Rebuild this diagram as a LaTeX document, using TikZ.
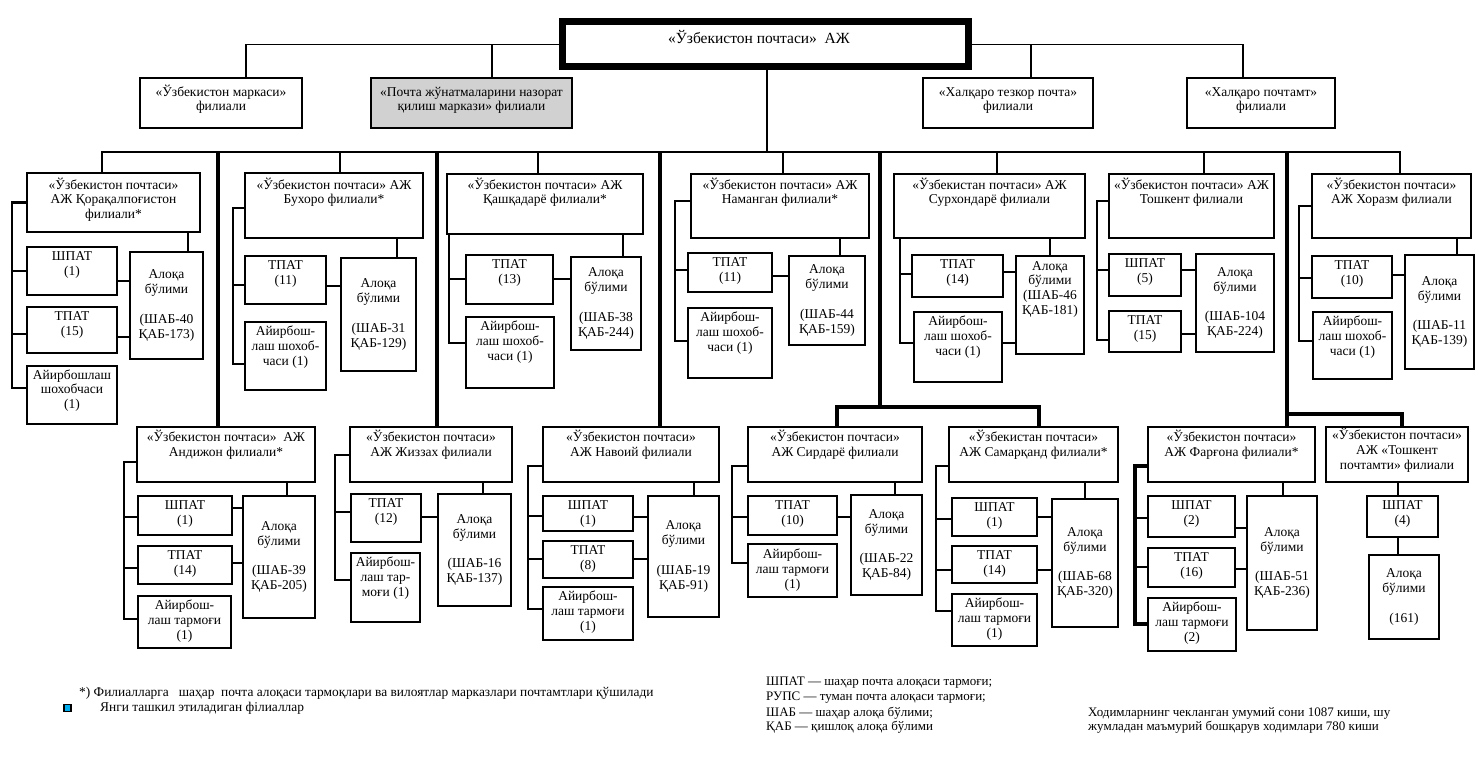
\documentclass[tikz,border=0pt]{standalone}
\usepackage{fontspec}
\setmainfont{Liberation Serif}
\newcommand\fs{\fontsize{13.5}{14.8}\selectfont}
\newcommand\mybt[7][1]{%
  \node[bxs, minimum width={#5-#3}, minimum height={#6-#4}] (#2) at (#3,#4) {};
  \node[txs, anchor=north] (#2x) at ([yshift=-#1pt]#2.north) {\rule{0pt}{12.5pt}#7};}
\newcommand\mybc[6]{%
  \node[bxs, txs, minimum width={#4-#2}, minimum height={#5-#3}] (#1) at (#2,#3) {#6};}
\newcommand\tck[3]{\draw[#3] (#1.west) -- (#1.west -| #2,0);}
\newcommand\tcky[4]{\draw[#4] (#1.west |- 0,#3) -- (#2,#3);}
\newcommand\hc[3]{\draw[ln] (#1.east |- 0,#3) -- (#2.west |- 0,#3);}
\begin{document}
\begin{tikzpicture}[x=1pt,y=-1pt,
  bxs/.style={draw, line width=1.8pt, inner sep=0pt, outer sep=0pt, anchor=north west},
  txs/.style={inner sep=0pt, align=center, font=\fs},
  ln/.style={line width=1.3pt},
  md/.style={line width=2.3pt},
  tk/.style={line width=3.4pt},
  lg/.style={inner sep=0pt, anchor=west, font=\fontsize{13}{15}\selectfont}]
\fill[white] (0,0) rectangle (1483,775);
\useasboundingbox (0,0) rectangle (1483,775);

% ---- top level
\node[draw, line width=7pt, minimum width=406, minimum height=45, anchor=north west, inner sep=0pt] (top) at (558.5,18.5) {};
\node[font=\fontsize{15.5}{17}\selectfont, inner sep=0pt] (topx) at (759,37) {«Ўзбекистон почтаси»\ \ АЖ};
\mybt[5.5]{mk}{140}{78}{302}{128}{«Ўзбекистон маркаси»\\филиали}
\node[bxs, fill=black!18, minimum width=201, minimum height=50] (pn) at (371,78) {};
\node[txs, anchor=north] (pnx) at ([yshift=-5.5pt]pn.north) {\rule{0pt}{12.5pt}«Почта жўнатмаларини назорат\\қилиш маркази» филиали};
\mybt[5.5]{ht}{923}{78}{1093}{128}{«Халқаро тезкор почта»\\филиали}
\mybt[5.5]{hp}{1187}{78}{1335}{128}{«Халқаро почтамт»\\филиали}
\draw[ln] (mk.north -| 246,0) |- (top.west);
\draw[ln] (pn.north -| 492,0) -- (top.west -| 492,0);
\draw[ln] (top.east) -| (hp.north -| 1243,0);
\draw[ln] (ht.north -| 1031,0) -- (top.east -| 1031,0);
\draw[md] (top.south -| 767,0) -- (767,152);

% ---- row 1 boxes
\mybt[3.5]{kk}{27}{173}{200}{232}{«Ўзбекистон почтаси»\\АЖ Қорақалпоғистон\\филиали*}
\mybt{kks}{27}{247}{117}{295}{ШПАТ\\(1)}
\mybt{kkt}{27}{307}{117}{353}{ТПАТ\\(15)}
\mybt[0.5]{kka}{27}{366}{117}{424}{Айирбошлаш\\шохобчаси\\(1)}
\mybc{kkl}{130}{252}{203}{359}{Алоқа\\бўлими\\[14.8pt](ШАБ-40\\ҚАБ-173)}

\mybt[3.5]{bu}{245}{173}{423}{238}{«Ўзбекистон почтаси» АЖ\\Бухоро филиали*}
\mybt{but}{245}{256}{326}{304}{ТПАТ\\(11)}
\mybt{bua}{245}{322}{326}{390}{Айирбош-\\лаш шохоб-\\часи (1)}
\mybc{bul}{341}{258}{416}{371}{Алоқа\\бўлими\\[14.8pt](ШАБ-31\\ҚАБ-129)}

\mybt[2.5]{kq}{447}{174}{643}{234}{«Ўзбекистон почтаси» АЖ\\Қашқадарё филиали*}
\mybt{kqt}{466}{255}{553}{304}{ТПАТ\\(13)}
\mybt{kqa}{466}{317}{554}{388}{Айирбош-\\лаш шохоб-\\часи (1)}
\mybc{kql}{571}{257}{641}{350}{Алоқа\\бўлими\\[14.8pt](ШАБ-38\\ҚАБ-244)}

\mybt[2.5]{nm}{691}{174}{869}{238}{«Ўзбекистон почтаси» АЖ\\Наманган филиали*}
\mybt{nmt}{688}{253}{772}{292}{ТПАТ\\(11)}
\mybt{nma}{688}{308}{772}{378}{Айирбош-\\лаш шохоб-\\часи (1)}
\mybc{nml}{789}{256}{865}{345}{Алоқа\\бўлими\\[14.8pt](ШАБ-44\\ҚАБ-159)}

\mybt[2.5]{sx}{894}{174}{1085}{238}{«Ўзбекистан почтаси» АЖ\\Сурхондарё филиали}
\mybt{sxt}{912}{255}{1003}{297}{ТПАТ\\(14)}
\mybt{sxa}{914}{312}{1002}{382}{Айирбош-\\лаш шохоб-\\часи (1)}
\mybt[1.5]{sxl}{1016}{256}{1084}{354}{Алоқа\\бўлими\\(ШАБ-46\\ҚАБ-181)}

\mybt[2.5]{ts}{1109}{174}{1274}{238}{«Ўзбекистон почтаси» АЖ\\Тошкент филиали}
\mybt{tss}{1109}{254}{1181}{296}{ШПАТ\\(5)}
\mybt{tst}{1109}{311}{1181}{352}{ТПАТ\\(15)}
\mybc{tsl}{1196}{254}{1274}{352}{Алоқа\\бўлими\\[14.8pt](ШАБ-104\\ҚАБ-224)}

\mybt[2.5]{xr}{1312}{174}{1471}{238}{«Ўзбекистон почтаси»\\АЖ Хоразм филиали}
\mybt{xrt}{1312}{256}{1392}{298}{ТПАТ\\(10)}
\mybt{xra}{1313}{312}{1392}{379}{Айирбош-\\лаш шохоб-\\часи (1)}
\mybc{xrl}{1405}{255}{1474}{369}{Алоқа\\бўлими\\[14.8pt](ШАБ-11\\ҚАБ-139)}

% ---- row 2 boxes
\mybt[1.5]{an}{137}{427}{315}{482}{«Ўзбекистон почтаси»\ \ АЖ\\Андижон филиали*}
\mybt{ans}{138}{496}{232}{535}{ШПАТ\\(1)}
\mybt{ant}{138}{546}{232}{584}{ТПАТ\\(14)}
\mybt{ana}{138}{596}{231}{648}{Айирбош-\\лаш тармоғи\\(1)}
\mybc{anl}{243}{496}{315}{618}{Алоқа\\бўлими\\[14.8pt](ШАБ-39\\ҚАБ-205)}

\mybt[1.5]{jz}{350}{427}{512}{482}{«Ўзбекистон почтаси»\\АЖ Жиззах филиали}
\mybt{jzt}{351}{494}{421}{542}{ТПАТ\\(12)}
\mybt{jza}{351}{553}{420}{622}{Айирбош-\\лаш тар-\\моғи (1)}
\mybc{jzl}{438}{494}{511}{606}{Алоқа\\бўлими\\[14.8pt](ШАБ-16\\ҚАБ-137)}

\mybt[1.5]{nv}{543}{427}{719}{482}{«Ўзбекистон почтаси»\\АЖ Навоий филиали}
\mybt[0.5]{nvs}{543}{496}{633}{531}{ШПАТ\\(1)}
\mybt[0.5]{nvt}{543}{541}{633}{578}{ТПАТ\\(8)}
\mybt{nva}{543}{587}{633}{640}{Айирбош-\\лаш тармоғи\\(1)}
\mybc{nvl}{648}{496}{719}{617}{Алоқа\\бўлими\\[14.8pt](ШАБ-19\\ҚАБ-91)}

\mybt[1.5]{sd}{748}{427}{922}{482}{«Ўзбекистон почтаси»\\АЖ Сирдарё филиали}
\mybt{sdt}{748}{496}{837}{535}{ТПАТ\\(10)}
\mybt[2]{sda}{748}{544}{837}{597}{Айирбош-\\лаш тармоғи\\(1)}
\mybc{sdl}{851}{495}{922}{595}{Алоқа\\бўлими\\[14.8pt](ШАБ-22\\ҚАБ-84)}

\mybt[1.5]{sm}{949}{427}{1118}{482}{«Ўзбекистан почтаси»\\АЖ Самарқанд филиали*}
\mybt{sms}{952}{498}{1037}{536}{ШПАТ\\(1)}
\mybt{smt}{952}{546}{1037}{583}{ТПАТ\\(14)}
\mybt{sma}{952}{594}{1037}{646}{Айирбош-\\лаш тармоғи\\(1)}
\mybc{sml}{1052}{499}{1118}{627}{Алоқа\\бўлими\\[14.8pt](ШАБ-68\\ҚАБ-320)}

\mybt[1.5]{fg}{1148}{427}{1315}{482}{«Ўзбекистон почтаси»\\АЖ Фарғона филиали*}
\mybt{fgs}{1148}{496}{1235}{537}{ШПАТ\\(2)}
\mybt{fgt}{1148}{548}{1235}{587}{ТПАТ\\(16)}
\mybt{fga}{1148}{598}{1236}{651}{Айирбош-\\лаш тармоғи\\(2)}
\mybc{fgl}{1247}{496}{1317}{630}{Алоқа\\бўлими\\[14.8pt](ШАБ-51\\ҚАБ-236)}

\mybt[0]{tp}{1326}{427}{1468}{482}{«Ўзбекистон почтаси»\\АЖ «Тошкент\\почтамти» филиали}
\mybt{tps}{1367}{496}{1438}{537}{ШПАТ\\(4)}
\mybc{tpl}{1369}{555}{1439}{639}{Алоқа\\бўлими\\[14.8pt](161)}

% ---- bus and drops
\draw[md] (kk.north -| 102,0) -- (102,152) -- (1400,152) -- (xr.north -| 1400,0);
\draw[ln] (340,152) -- (bu.north -| 340,0);
\draw[ln] (538,152) -- (kq.north -| 538,0);
\draw[ln] (783,152) -- (nm.north -| 783,0);
\draw[ln] (997,152) -- (sx.north -| 997,0);
\draw[ln] (1204,152) -- (ts.north -| 1204,0);
\draw[tk] (218,152) -- (an.north -| 218,0);
\draw[tk] (437,152) -- (jz.north -| 437,0);
\draw[tk] (660,152) -- (nv.north -| 660,0);
\draw[tk] (880,152) -- (880,407);
\draw[tk] (sd.north -| 837,0) -- (837,407) -- (1039,407) -- (sm.north -| 1039,0);
\draw[tk] (1287,152) -- (fg.north -| 1287,0);
\draw[tk] (1287,414) -- (1402,414) -- (tp.north -| 1402,0);

% ---- Qoraqalpog'iston
\draw[md] (kk.west) -- (kk.west -| 12,0) -- (12,388) -- (kka.west |- 0,388);
\tck{kks}{12}{md}
\tcky{kkt}{12}{334}{md}
\draw[ln] (kk.south -| 188,0) -- (kkl.north -| 188,0);
\hc{kks}{kkl}{281}
\hc{kkt}{kkl}{337}
% ---- Buxoro
\draw[ln] (bu.west |- 0,208) -- (233,208) -- (233,364) -- (bua.west |- 0,364);
\draw[md] (bu.west |- 0,208) -- (233,208);
\draw[md] (bua.west |- 0,364) -- (233,364);
\tcky{but}{233}{285}{ln}
\draw[ln] (bu.south -| 397,0) -- (bul.north -| 397,0);
\hc{but}{bul}{286}
% ---- Qashqadaryo
\draw[ln] (kq.south -| 449,0) -- (449,343) -- (kqa.west |- 0,343);
\tcky{kqt}{449}{279}{md}
\draw[ln] (kq.south -| 623,0) -- (kql.north -| 623,0);
\hc{kqt}{kql}{279}
% ---- Namangan
\draw[md] (nm.west |- 0,201) -- (675,201) -- (675,341) -- (nma.west |- 0,341);
\tcky{nmt}{675}{270}{md}
\draw[ln] (nm.south -| 840,0) -- (nml.north -| 840,0);
\hc{nmt}{nml}{276}
% ---- Surxondaryo
\draw[ln] (sx.south -| 900,0) -- (900,343) -- (sxa.west |- 0,343);
\tcky{sxt}{900}{274}{ln}
\draw[ln] (sx.south -| 1050,0) -- (sxl.north -| 1050,0);
\hc{sxt}{sxl}{272}
\hc{sxa}{sxl}{343}
% ---- Toshkent
\draw[md] (ts.west |- 0,201) -- (1097,201) -- (1097,340) -- (tst.west |- 0,340);
\tcky{tss}{1097}{270}{md}
\draw[md] (tss.east |- 0,270) -- (tsl.west |- 0,270);
\hc{tst}{tsl}{334}
% ---- Xorazm
\draw[ln] (xr.west |- 0,206) -- (1299,206) -- (1299,341) -- (xra.west |- 0,341);
\draw[md] (xr.west |- 0,206) -- (1299,206);
\tcky{xrt}{1299}{278}{ln}
\draw[ln] (xr.south -| 1457,0) -- (xrl.north -| 1457,0);
\hc{xrt}{xrl}{275}
% ---- Andijon
\draw[md] (an.west |- 0,462) -- (124,462) -- (124,619) -- (ana.west |- 0,619);
\tcky{ans}{124}{517}{ln}
\tcky{ant}{124}{568}{ln}
\draw[ln] (an.south -| 287,0) -- (anl.north -| 287,0);
\hc{ans}{anl}{508}
\hc{ant}{anl}{563}
% ---- Jizzax
\draw[ln] (jz.west |- 0,455) -- (335,455) -- (335,580) -- (jza.west |- 0,580);
\tcky{jzt}{335}{512}{ln}
\draw[ln] (jz.south -| 483,0) -- (jzl.north -| 483,0);
\hc{jzt}{jzl}{517}
% ---- Navoiy
\draw[md] (nv.west |- 0,466) -- (528,466) -- (528,609) -- (nva.west |- 0,609);
\tcky{nvs}{528}{516}{ln}
\tcky{nvt}{528}{559}{ln}
\draw[ln] (nv.south -| 694,0) -- (nvl.north -| 694,0);
\draw[md] (nvs.east |- 0,517) -- (nvl.west |- 0,517);
\hc{nvt}{nvl}{559}
% ---- Sirdaryo
\draw[md] (sd.west |- 0,466) -- (732,466) -- (732,563) -- (sda.west |- 0,563);
\tcky{sdt}{732}{517}{ln}
\draw[ln] (sd.south -| 895,0) -- (sdl.north -| 895,0);
\hc{sdt}{sdl}{517}
% ---- Samarqand
\draw[md] (sm.west |- 0,466) -- (936,466) -- (936,611) -- (sma.west |- 0,611);
\tcky{sms}{936}{519}{ln}
\tcky{smt}{936}{570}{ln}
\draw[ln] (sm.south -| 1085,0) -- (sml.north -| 1085,0);
\hc{sms}{sml}{517}
\hc{smt}{sml}{570}
% ---- Farg'ona
\draw[tk] (fg.west |- 0,466) -- (1135,466) -- (1135,624) -- (fga.west |- 0,624);
\tcky{fgs}{1135}{518}{ln}
\tcky{fgt}{1135}{567}{ln}
\draw[ln] (fg.south -| 1283,0) -- (fgl.north -| 1283,0);
\hc{fgs}{fgl}{528}
\hc{fgt}{fgl}{569}
% ---- Toshkent pochtamti
\draw[md] (tp.south -| 1398,0) -- (tps.north -| 1398,0);
\draw[md] (tps.south -| 1398,0) -- (tpl.north -| 1398,0);

% ---- legend
\node[lg, font=\fontsize{13.4}{15}\selectfont] (n1) at (79,693) {*) Филиалларга\ \ \ шаҳар\ \ почта алоқаси тармоқлари ва вилоятлар марказлари почтамтлари қўшилади};
\node[draw=black, line width=1.2pt, fill=cyan, minimum width=7, minimum height=7, inner sep=0pt] (sq) at (67.5,708) {};
\node[lg, font=\fontsize{13.4}{15}\selectfont] (n2) at (100,708) {Янги ташкил этиладиган філиаллар};
\node[lg] (l1) at (766,683) {ШПАТ — шаҳар почта алоқаси тармоғи;};
\node[lg] (l2) at (766,698) {РУПС — туман почта алоқаси тармоғи;};
\node[lg] (l3) at (766,713) {ШАБ — шаҳар алоқа бўлими;};
\node[lg] (l4) at (766,727) {ҚАБ — қишлоқ алоқа бўлими};
\node[lg] (r1) at (1088,713) {Ходимларнинг чекланган умумий сони 1087 киши, шу};
\node[lg] (r2) at (1088,727) {жумладан маъмурий бошқарув ходимлари 780 киши};
\end{tikzpicture}
\end{document}
